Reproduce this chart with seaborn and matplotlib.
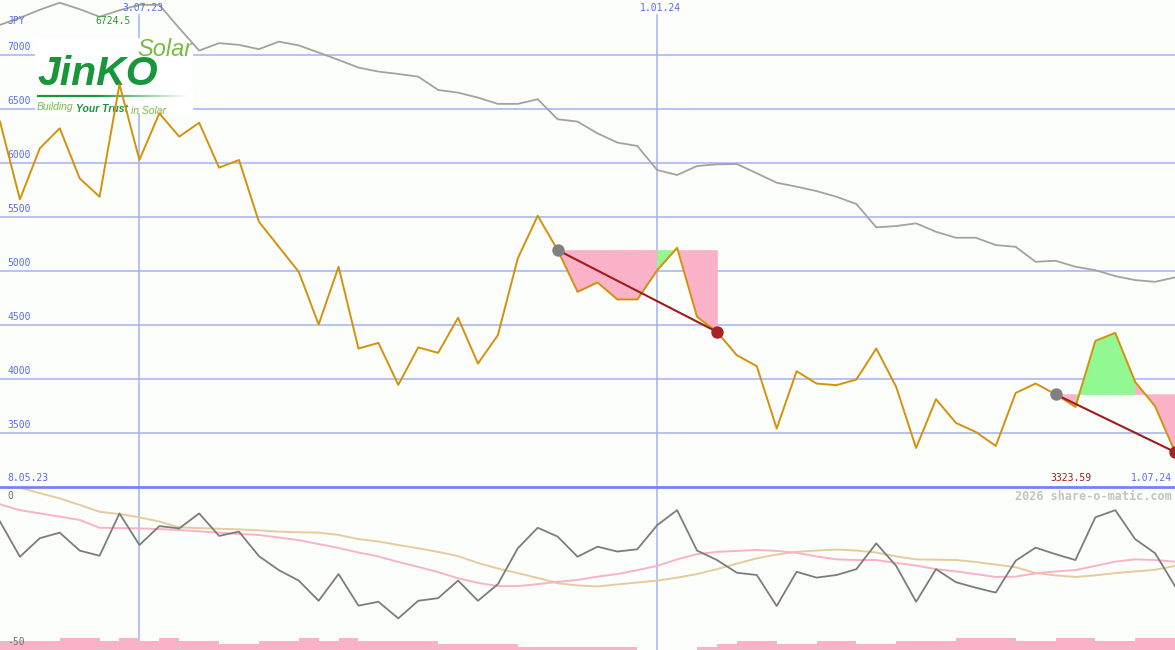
import numpy as np
import pandas as pd
import matplotlib.pyplot as plt
import seaborn as sns
from matplotlib.patches import Rectangle
from matplotlib.collections import LineCollection

# colours
BG = '#fcfefc'
GRID = '#a4b2f2'
AXISLINE = '#7484f0'
LABEL = '#5a6cf0'
ORANGE = '#d4920c'
MA_GRAY = '#a2a2a2'
OSC_GRAY = '#7c7c7c'
PINK = '#f9b2c8'
TAN = '#e4cc9c'
GREEN_FILL = '#92f892'
DARKRED = '#a01c1c'
JINKO_DARK = '#17963a'
JINKO_LIGHT = '#78bc44'

# weekly closes (JPY)
close = [6380, 5661, 6133, 6318, 5855, 5685, 6724.5, 6025, 6457, 6241,
         6370, 5954, 6025, 5454, 5222, 4991, 4504, 5037, 4281, 4333,
         3945, 4291, 4241, 4565, 4142, 4405, 5115, 5509, 5192, 4806,
         4892, 4735, 4735, 5006, 5213, 4574, 4435, 4219, 4118, 3541,
         4071, 3957, 3942, 3994, 4281, 3926, 3361, 3812, 3593, 3509,
         3380, 3870, 3957, 3858, 3741, 4352, 4426, 3972, 3747, 3323.59]
# long moving average (grey line)
ma_long = [7275, 7340, 7415, 7480, 7420, 7350, 7410, 7460, 7460, 7245,
           7037, 7106, 7090, 7050, 7120, 7085, 7019, 6951, 6880, 6843,
           6821, 6796, 6673, 6648, 6602, 6544, 6544, 6587, 6402, 6380,
           6272, 6186, 6155, 5932, 5886, 5969, 5985, 5988, 5902, 5815,
           5778, 5738, 5685, 5618, 5402, 5414, 5439, 5361, 5306, 5306,
           5238, 5222, 5083, 5093, 5037, 5006, 4951, 4914, 4898, 4939]
# lower panel oscillator + its two averages
osc = [-10.6, -21.4, -15.7, -14.0, -19.5, -21.1, -8.1, -17.8, -12.0, -12.7,
       -8.1, -15.0, -13.7, -21.2, -25.5, -28.7, -34.9, -26.7, -36.4, -35.2,
       -40.3, -34.9, -34.1, -28.7, -34.9, -29.8, -18.8, -12.5, -15.2, -21.4,
       -18.3, -19.8, -19.1, -11.7, -7.1, -19.5, -22.4, -26.3, -27.0, -36.5,
       -26.0, -27.8, -27.0, -25.2, -17.3, -24.2, -35.2, -25.2, -29.2, -30.9,
       -32.4, -22.6, -18.6, -20.6, -22.4, -9.3, -7.1, -16.0, -20.3, -30.4]
osc_pink = [-5.3, -7.1, -8.1, -9.1, -10.1, -12.5, -12.6, -12.7, -12.9, -13.2,
            -13.6, -14.0, -14.4, -14.7, -15.5, -16.3, -17.5, -18.7, -20.1, -21.3,
            -23.0, -24.5, -26.1, -28.0, -29.4, -30.4, -30.4, -29.8, -29.1, -28.5,
            -27.5, -26.7, -25.5, -24.2, -22.2, -20.6, -19.9, -19.6, -19.3, -19.6,
            -20.2, -21.3, -22.2, -22.4, -22.4, -23.3, -24.1, -25.2, -25.9, -26.7,
            -27.6, -27.5, -26.5, -25.9, -25.5, -24.2, -22.9, -22.2, -22.4, -22.9]
osc_tan = [1.2, -0.2, -1.9, -3.5, -5.5, -7.6, -8.3, -9.3, -10.6, -12.4,
           -12.6, -12.8, -13.0, -13.3, -13.7, -13.9, -14.0, -14.7, -16.0, -16.7,
           -17.8, -18.8, -19.9, -21.2, -23.3, -25.0, -26.4, -27.9, -29.5, -30.2,
           -30.5, -29.9, -29.3, -28.7, -27.8, -26.7, -25.2, -23.5, -21.9, -20.7,
           -19.9, -19.5, -19.2, -19.5, -20.1, -21.3, -22.2, -22.3, -22.4, -23.0,
           -23.8, -24.6, -26.4, -27.1, -27.6, -27.1, -26.4, -25.9, -25.4, -24.2]
# volume blocks, one per week interval
volume = [3, 3, 3, 4, 4, 3, 4, 3, 4, 3, 3, 2, 2, 3, 3, 4, 3, 4, 3, 3,
          3, 3, 2, 2, 2, 2, 1, 1, 1, 1, 1, 1, 0, 0, 0, 1, 2, 3, 3, 2,
          2, 3, 3, 2, 2, 3, 3, 3, 4, 4, 4, 3, 3, 4, 4, 3, 3, 4, 4]

first_date, last_date = '8.05.23', '1.07.24'
month_idx = [7, 33]
month_labels = ['3.07.23', '1.01.24']
price_ticks = [3500, 4000, 4500, 5000, 5500, 6000, 6500, 7000]
patterns = [(28, 36), (53, 59)]

W, H = 1175, 650
plt.rcParams['font.family'] = ['DejaVu Sans Mono', 'DejaVu Sans']

df = pd.DataFrame({'week': np.arange(len(close)), 'close': close, 'ma': ma_long,
                   'osc': osc, 'osc_pink': osc_pink, 'osc_tan': osc_tan})
n = len(df)

fig = plt.figure(figsize=(W / 100, H / 100), dpi=100, facecolor=BG)
split = 487 / H
ax = fig.add_axes([0, 1 - split, 1, split])
ax_low = fig.add_axes([0, 0, 1, 1 - split])
for a in (ax, ax_low):
    a.set_facecolor(BG)
    a.set_xlim(0, n - 1)
    a.set_xticks([])
    a.set_yticks([])
    for sp in a.spines.values():
        sp.set_visible(False)
ax.set_ylim(3000, 7505)
ax_low.set_ylim(-50, 0)


def px(x, y):
    return x / W, 1 - y / H


# grid
for t in price_ticks:
    ax.axhline(t, color=GRID, lw=1.1, zorder=1)
    ax.text(0.006, t + 25, str(t), transform=ax.get_yaxis_transform(),
            color=LABEL, fontsize=7, va='bottom', ha='left', zorder=1)
for i, lab in zip(month_idx, month_labels):
    ax.axvline(i, ymax=1 - 15 / 487, color=GRID, lw=1.1, zorder=1)
    ax_low.axvline(i, color=GRID, lw=1.1, zorder=1)
    ax.text(i + 0.18, 1 - 8 / 487, lab, transform=ax.get_xaxis_transform(),
            color=LABEL, fontsize=7, ha='center', va='center')
ax_low.axhline(0, color=AXISLINE, lw=2, clip_on=False, zorder=4)

# logo
ax.add_patch(Rectangle(px(35, 113), 158 / W, 75 / H, transform=fig.transFigure,
                       facecolor='white', edgecolor='none', zorder=1.5))
ax.text(*px(37, 85), 'JinKO', transform=fig.transFigure, family='Liberation Sans',
        fontsize=29.5, weight='bold', style='italic', color=JINKO_DARK, zorder=1.6)
ax.text(*px(137, 56), 'Solar', transform=fig.transFigure, family='Liberation Sans',
        fontsize=17, style='italic', color=JINKO_LIGHT, zorder=1.6)
gx = np.linspace(37, 190, 40)
segs = [[px(gx[k], 96), px(gx[k + 1], 96)] for k in range(len(gx) - 1)]
alphas = np.clip(1.6 - np.linspace(0, 1.6, len(segs)), 0, 1)
ax.add_collection(LineCollection(segs, transform=fig.transFigure, lw=1.6,
                                 colors=[(0.09, 0.59, 0.23, a) for a in alphas], zorder=1.6))
t1 = ax.text(*px(37, 110), 'Building', transform=fig.transFigure, family='Liberation Sans',
             fontsize=7.5, style='italic', color=JINKO_LIGHT, zorder=1.6)
t2 = ax.annotate('Your Trust', xy=(1, 0), xycoords=t1, xytext=(2, 0), textcoords='offset points',
                 family='Liberation Sans', fontsize=7.5, style='italic', weight='bold',
                 color=JINKO_DARK, zorder=1.6)
ax.annotate('in Solar', xy=(1, 0), xycoords=t2, xytext=(2, 0), textcoords='offset points',
            family='Liberation Sans', fontsize=7.5, style='italic', color=JINKO_LIGHT, zorder=1.6)

# pattern fills
for s, e in patterns:
    level = close[s]
    for i in range(s, e):
        col = GREEN_FILL if close[i + 1] > level else PINK
        ax.fill_between([i, i + 1], close[i:i + 2], level, color=col, lw=0.5,
                        edgecolor=col, zorder=2)

sns.lineplot(data=df, x='week', y='ma', ax=ax, color=MA_GRAY, linewidth=1.3, zorder=2.5)
sns.lineplot(data=df, x='week', y='close', ax=ax, color=ORANGE, linewidth=1.4, zorder=3)

for s, e in patterns:
    sns.lineplot(x=[s, e], y=[close[s], close[e]], ax=ax, color=DARKRED, linewidth=1.5, zorder=4)
    sns.scatterplot(x=[s], y=[close[s]], ax=ax, color='#808080', s=80, linewidth=0, zorder=5)
    sns.scatterplot(x=[e], y=[close[e]], ax=ax, color='#a82424', s=80, linewidth=0, zorder=5)

imax = int(np.argmax(close))
ax.text(imax + 0.55, 1 - 21 / 487, f'{close[imax]:.1f}', transform=ax.get_xaxis_transform(),
        color='#2a9a2a', fontsize=7, ha='right', va='center')
ax.text(7 / W, 1 - 21 / 487, 'JPY', transform=ax.transAxes, color=LABEL, fontsize=7,
        ha='left', va='center')
ax.text(7 / W, 9 / 487, first_date, transform=ax.transAxes, color=LABEL, fontsize=7,
        ha='left', va='center')
ax.text(1 - 3 / W, 9 / 487, last_date, transform=ax.transAxes, color=LABEL, fontsize=7,
        ha='right', va='center')
ax.text(n - 1 - 4.2, 9 / 487, f'{close[-1]:.2f}', transform=ax.get_xaxis_transform(),
        color=DARKRED, fontsize=7, ha='right', va='center')
for a in (ax, ax_low):
    a.set_xlabel('')
    a.set_ylabel('')

# lower panel
sns.lineplot(data=df, x='week', y='osc_tan', ax=ax_low, color=TAN, linewidth=1.4, zorder=2)
sns.lineplot(data=df, x='week', y='osc_pink', ax=ax_low, color=PINK, linewidth=1.4, zorder=2)
sns.lineplot(data=df, x='week', y='osc', ax=ax_low, color=OSC_GRAY, linewidth=1.3, zorder=3)
ax_vol = ax_low.twinx()
ax_vol.set_ylim(0, 54)
ax_vol.set_yticks([])
for sp in ax_vol.spines.values():
    sp.set_visible(False)
ax_vol.bar(np.arange(len(volume)), volume, width=1, align='edge', color=PINK, lw=0)
ax_low.set_xlabel('')
ax_low.set_ylabel('')

ax_low.text(7 / W, 1 - 9 / 163, '0', transform=ax_low.transAxes, color='#707070',
            fontsize=7, ha='left', va='center')
ax_vol.text(7 / W, 8 / 163, '-50', transform=ax_vol.transAxes, color='#707070',
            fontsize=7, ha='left', va='center', zorder=6)
ax_low.text(1 - 3 / W, 1 - 9 / 163, '2026 share-o-matic.com', transform=ax_low.transAxes,
            color='#c4c4c4', fontsize=8.5, weight='bold', ha='right', va='center')

fig.savefig('out.png', dpi=100, facecolor=BG)
